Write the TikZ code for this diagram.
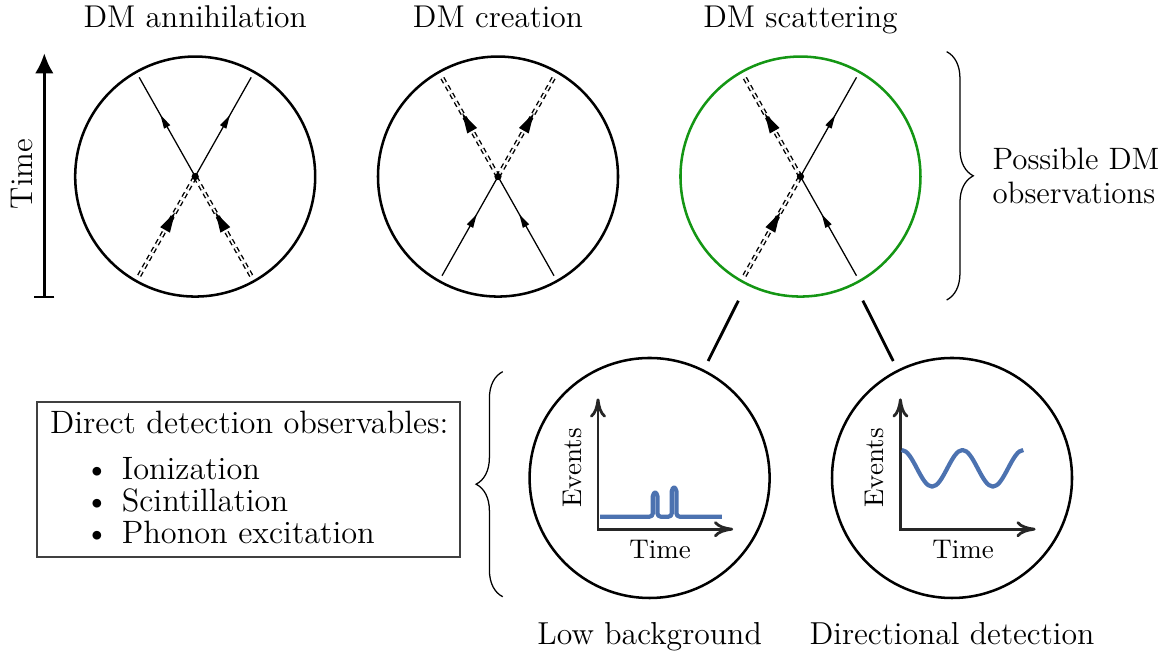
\documentclass[tikz,border=0pt]{standalone}
\usepackage{fontspec}
\usepackage{tikz}
\usetikzlibrary{arrows.meta, decorations.markings, decorations.pathreplacing}

\definecolor{scatgreen}{RGB}{20,150,20}
\definecolor{plotblue}{RGB}{76,114,176}

\tikzset{
	obscircle/.style={draw, circle, line width=0.9pt, minimum size=3cm, inner sep=0pt},
	fermion/.style={line width=0.45pt, postaction={decorate, decoration={markings,
		mark=at position 0.56 with {\fill (0.085,0) -- (-0.085,0.045) -- (-0.085,-0.045) -- cycle;}}}},
	dmline/.style={double, double distance=0.6pt, line width=0.5pt, dash pattern=on 1.8pt off 1.4pt,
		postaction={decorate, decoration={markings,
		mark=at position 0.55 with {\fill (0.125,0) -- (-0.125,0.07) -- (-0.125,-0.07) -- cycle;}}}},
	link/.style={line width=1pt, shorten <=0.22cm, shorten >=0.12cm},
	axis/.style={line width=1pt, black!85, {To[length=2.4mm,width=2mm]}-{To[length=2.4mm,width=2mm]}},
	signal/.style={line width=1.5pt, plotblue, line join=round},
	sidebrace/.style={decorate, decoration={brace, amplitude=0.333cm}, line width=0.45pt},
	title/.style={anchor=base, inner sep=0pt, font=\fontsize{11.2}{13.5}\selectfont},
	caption/.style={anchor=base, inner sep=0pt, font=\fontsize{11.3}{13.5}\selectfont},
	plotlabel/.style={inner sep=0pt, font=\fontsize{9.6}{11.5}\selectfont},
	boxtext/.style={anchor=base west, inner sep=0pt, font=\fontsize{11.5}{14}\selectfont}
}

\begin{document}
\begin{tikzpicture}
	\useasboundingbox (0,0) rectangle (14.6625,-8.2125);
	% Time axis
	\coordinate (tbot) at (0.554,-3.729);
	\coordinate (ttop) at (0.554,-0.666);
	\draw[line width=0.9pt, {Bar[width=2.5mm]}-{Latex[length=2.5mm,width=2.3mm]}] (tbot) -- (ttop);
	\node[rotate=90, inner sep=0pt, font=\fontsize{11.2}{13}\selectfont] (timelabel) at (0.27,-2.175) {Time};
	% Processes
	\node[obscircle] (ann) at (2.44,-2.207) {};
	\node[obscircle] (cre) at (6.225,-2.207) {};
	\node[obscircle, draw=scatgreen] (sca) at (10.006,-2.207) {};
	\node[title] (anntitle) at (2.44,-0.35) {DM annihilation};
	\node[title] (cretitle) at (6.225,-0.35) {DM creation};
	\node[title] (scatitle) at (10.006,-0.35) {DM scattering};
	% Annihilation
	\draw[dmline] (ann.center) ++(-0.7,-1.24) -- (ann.center);
	\draw[dmline] (ann.center) ++(0.7,-1.24) -- (ann.center);
	\draw[fermion] (ann.center) -- ++(-0.7,1.24);
	\draw[fermion] (ann.center) -- ++(0.7,1.24);
	% Creation
	\draw[fermion] (cre.center) ++(-0.7,-1.24) -- (cre.center);
	\draw[fermion] (cre.center) ++(0.7,-1.24) -- (cre.center);
	\draw[dmline] (cre.center) -- ++(-0.7,1.24);
	\draw[dmline] (cre.center) -- ++(0.7,1.24);
	% Scattering
	\draw[dmline] (sca.center) ++(-0.7,-1.24) -- (sca.center);
	\draw[fermion] (sca.center) ++(0.7,-1.24) -- (sca.center);
	\draw[dmline] (sca.center) -- ++(-0.7,1.24);
	\draw[fermion] (sca.center) -- ++(0.7,1.24);
	% Vertices
	\fill (ann.center) circle (0.045);
	\fill (cre.center) circle (0.045);
	\fill (sca.center) circle (0.045);
	% Brace right
	\draw[sidebrace] (11.833,-0.646) -- (11.833,-3.75);
	\node[anchor=west, align=left, inner sep=0pt, font=\fontsize{11}{11.8}\selectfont] (obslabel) at (12.4,-2.2) {Possible DM\\observations};
	% Direct detection
	\node[obscircle] (lowbg) at (8.12,-5.975) {};
	\node[obscircle] (dirdet) at (11.9,-5.975) {};
	\draw[link] (sca) -- (lowbg);
	\draw[link] (sca) -- (dirdet);
	% Low background plot
	\draw[axis] (lowbg.center) ++(-0.645,0.995) -- ++(0,-1.635) -- ++(1.69,0);
	\draw[signal, rounded corners=1.2pt] (lowbg.center) ++(-0.62,-0.484) -- ++(0.66,0) -- ++(0,0.3) -- ++(0.058,0) -- ++(0,-0.3) -- ++(0.179,0) -- ++(0,0.363) -- ++(0.058,0) -- ++(0,-0.363) -- ++(0.5675,0);
	\node[plotlabel, rotate=90] (lbevents) at (7.15,-5.85) {Events};
	\node[plotlabel, anchor=base] (lbtime) at (8.25,-6.9875) {Time};
	% Directional plot
	\draw[axis] (dirdet.center) ++(-0.645,0.995) -- ++(0,-1.635) -- ++(1.69,0);
	\draw[signal] (dirdet.center) ++(-0.629,0.35) cos ++(0.19,-0.229) sin ++(0.19,-0.229) cos ++(0.19,0.229) sin ++(0.19,0.229) cos ++(0.19,-0.229) sin ++(0.19,-0.229) cos ++(0.19,0.229) sin ++(0.19,0.229);
	\node[plotlabel, rotate=90] (ddevents) at (10.925,-5.85) {Events};
	\node[plotlabel, anchor=base] (ddtime) at (12.0375,-6.9875) {Time};
	% Captions
	\node[caption] (lbcaption) at (8.12,-8.06) {Low background};
	\node[caption] (ddcaption) at (11.9,-8.06) {Directional detection};
	% Observables box
	\node[draw=black!75, line width=0.5pt, minimum width=5.2875cm, minimum height=1.9375cm, inner sep=0pt] (obsbox) at (3.106,-5.994) {};
	\node[boxtext] (obshead) at (0.62,-5.425) {Direct detection observables:};
	\node[boxtext] (ion) at (1.05,-6.0) {\textbullet\hspace{4.5pt}Ionization};
	\node[boxtext] (scint) at (1.05,-6.4) {\textbullet\hspace{4.5pt}Scintillation};
	\node[boxtext] (phon) at (1.05,-6.79) {\textbullet\hspace{4.5pt}Phonon excitation};
	% Brace left
	\draw[sidebrace] (6.284,-7.459) -- (6.284,-4.646);
\end{tikzpicture}
\end{document}
